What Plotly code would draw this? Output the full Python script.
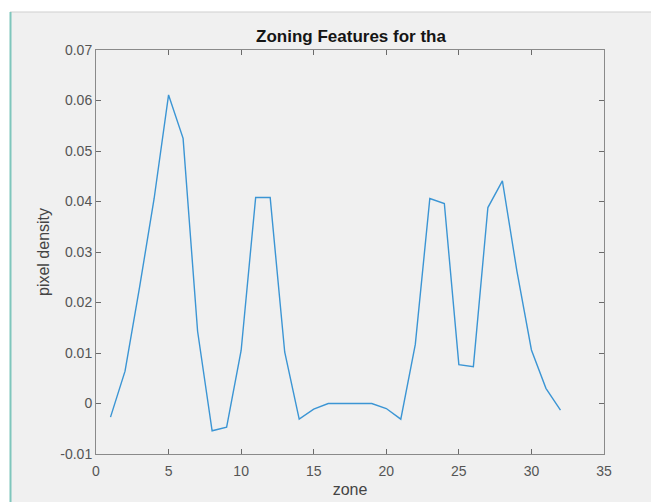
import plotly.graph_objects as go

zones = list(range(1, 33))
density = [-0.0027, 0.0064, 0.0230, 0.0405, 0.0611, 0.0525, 0.0143, -0.0054,
           -0.0047, 0.0105, 0.0408, 0.0408, 0.0102, -0.0031, -0.0011, 0.0,
           0.0, 0.0, 0.0, -0.0010, -0.0031, 0.0117, 0.0406, 0.0396,
           0.0077, 0.0073, 0.0388, 0.0441, 0.0262, 0.0106, 0.0030, -0.0013]

x_ticks = [0, 5, 10, 15, 20, 25, 30, 35]
y_ticks = [-0.01, 0.0, 0.01, 0.02, 0.03, 0.04, 0.05, 0.06, 0.07]
y_tick_labels = ["-0.01", "0", "0.01", "0.02", "0.03", "0.04", "0.05", "0.06", "0.07"]

# page body has an 8px default margin, so figure coords = window coords - 8
OFF = 8
W, H = 659 - OFF, 502 - OFF
L, T = 96 - OFF, 50 - OFF
R = W - (604 - OFF)
B = H - (454 - OFF)
pw, ph = W - L - R, H - T - B

def px_x(p):
    return (p - OFF - L) / pw

def px_y(p):
    return (H - B - (p - OFF)) / ph

FONT = "Liberation Sans, Arial"

fig = go.Figure()
fig.add_trace(go.Scatter(x=zones, y=density, mode="lines",
                         line=dict(color="#3b95d4", width=1.4),
                         showlegend=False, hoverinfo="skip"))

axis_common = dict(showline=True, linecolor="#8a8a8a", linewidth=1, mirror="allticks",
                   ticks="inside", ticklen=5, tickcolor="#6a6a6a", showgrid=False,
                   zeroline=False, automargin=False,
                   tickfont=dict(family=FONT, size=14, color="#555555"))

fig.update_xaxes(range=[0, 35], tickvals=x_ticks, ticktext=[str(v) for v in x_ticks],
                 ticklabelstandoff=4,
                 title=dict(text="zone", font=dict(family=FONT, size=16, color="#444444"), standoff=6),
                 **axis_common)
fig.update_yaxes(range=[-0.01, 0.07], tickvals=y_ticks, ticktext=y_tick_labels,
                 title=dict(text="pixel density", font=dict(family=FONT, size=16, color="#444444"), standoff=6),
                 **axis_common)

shapes = [
    dict(type="rect", xref="paper", yref="paper", x0=px_x(10), x1=px_x(670),
         y0=px_y(510), y1=px_y(12), fillcolor="#f0f0f0", line=dict(width=0), layer="below"),
    dict(type="line", xref="paper", yref="paper", x0=px_x(10), x1=px_x(670),
         y0=px_y(12), y1=px_y(12), line=dict(color="#cfcfcf", width=1), layer="below"),
    dict(type="line", xref="paper", yref="paper", x0=px_x(10.5), x1=px_x(10.5),
         y0=px_y(510), y1=px_y(12), line=dict(color="#7fc6bc", width=2), layer="below"),
]

fig.update_layout(
    width=W, height=H,
    margin=dict(l=L, r=R, t=T, b=B, pad=0, autoexpand=False),
    paper_bgcolor="white", plot_bgcolor="white",
    shapes=shapes,
    title=dict(text="Zoning Features for tha", x=(351 - OFF) / W, xanchor="center",
               y=1 - (36 - OFF) / H, yanchor="middle",
               font=dict(family=FONT, size=17, color="#151515", weight="bold")),
)

fig.write_html("out.html")
